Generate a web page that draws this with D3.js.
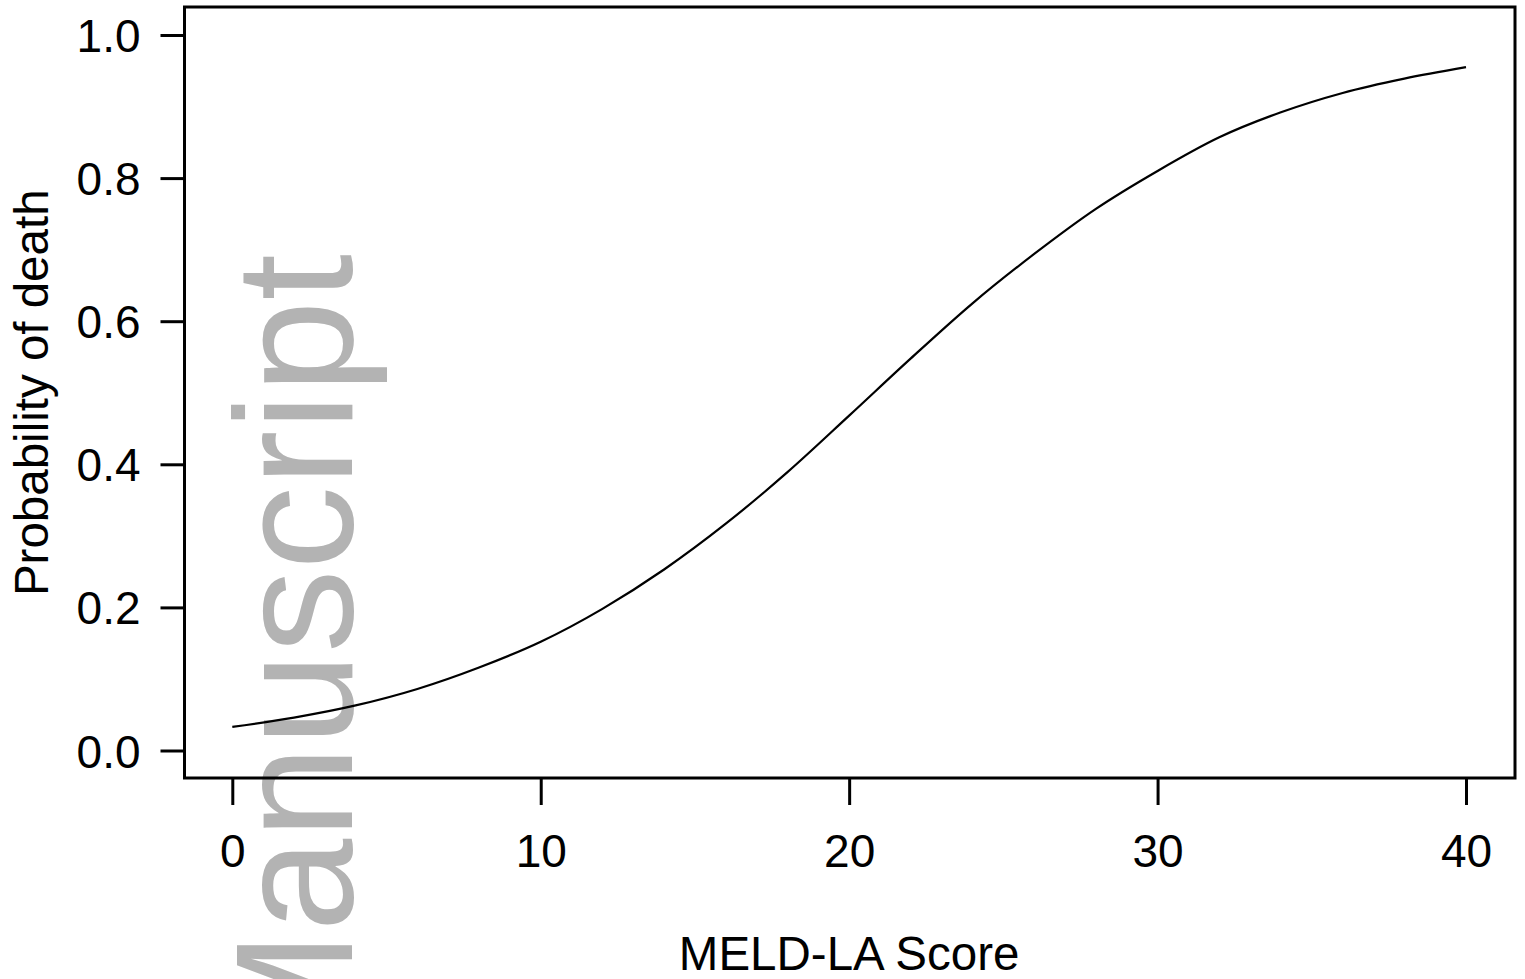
<!DOCTYPE html>
<html lang="en">
<head>
<meta charset="UTF-8">
<title>Probability of death vs MELD-LA Score</title>
<script src="https://d3js.org/d3.v7.min.js"></script>
<style>
  body { margin: 0; background: #fff; overflow: hidden; }
  svg { display: block; font-family: "Liberation Sans", Arial, sans-serif; }
</style>
</head>
<body>
<div id="chart"></div>
<script>
// values
var meldScore = [0, 2, 4, 6, 8, 10, 12, 14, 16, 18, 20, 22, 24, 26, 28, 30, 32, 34, 36, 38, 40];
var probDeath = [0.033, 0.046, 0.063, 0.086, 0.116, 0.152, 0.198, 0.253, 0.317, 0.389, 0.468,
                 0.548, 0.625, 0.694, 0.757, 0.810, 0.857, 0.892, 0.919, 0.939, 0.955];
var xTicks = [0, 10, 20, 30, 40];
var yTicks = [0, 0.2, 0.4, 0.6, 0.8, 1.0];

var w = 1525, h = 979;
var box = {left: 184.5, right: 1515, top: 7, bottom: 778};

var data = meldScore.map(function(d, i) { return {x: d, y: probDeath[i]}; });

var xScale = d3.scaleLinear().domain([0, 40]).range([232.3, 1466]);
var yScale = d3.scaleLinear().domain([0, 1]).range([750.5, 35]);

var svg = d3.select('#chart').append('svg')
    .attr('width', w)
    .attr('height', h);

// grey watermark behind everything
svg.append('text')
    .attr('transform', 'translate(352, 254) rotate(-90)')
    .attr('text-anchor', 'end')
    .attr('font-size', '167px')
    .attr('fill', '#b3b3b3')
    .text('Manuscript');

// curve
var line = d3.line()
    .x(function(d) { return xScale(d.x); })
    .y(function(d) { return yScale(d.y); })
    .curve(d3.curveMonotoneX);

svg.append('path')
    .datum(data)
    .attr('d', line)
    .attr('fill', 'none')
    .attr('stroke', '#000')
    .attr('stroke-width', 2.2);

// plot box
svg.append('rect')
    .attr('x', box.left)
    .attr('y', box.top)
    .attr('width', box.right - box.left)
    .attr('height', box.bottom - box.top)
    .attr('fill', 'none')
    .attr('stroke', '#000')
    .attr('stroke-width', 3);

// axes
var xAxis = d3.axisBottom(xScale)
    .tickValues(xTicks)
    .tickSize(27)
    .tickPadding(29)
    .tickFormat(d3.format('d'));
var yAxis = d3.axisLeft(yScale)
    .tickValues(yTicks)
    .tickSize(24)
    .tickPadding(20)
    .tickFormat(d3.format('.1f'));

var gx = svg.append('g')
    .attr('id', 'x-axis')
    .attr('transform', 'translate(0,' + box.bottom + ')')
    .call(xAxis);
var gy = svg.append('g')
    .attr('id', 'y-axis')
    .attr('transform', 'translate(' + box.left + ',0)')
    .call(yAxis);

[gx, gy].forEach(function(g) {
    g.select('.domain').remove();
    g.selectAll('.tick line').attr('stroke', '#000').attr('stroke-width', 3);
    g.selectAll('.tick text')
        .attr('fill', '#000')
        .attr('font-size', '46px')
        .attr('font-family', '"Liberation Sans", Arial, sans-serif');
});
gy.selectAll('.tick text').attr('dy', '0.36em');

// axis titles
svg.append('text')
    .attr('x', xScale(20))
    .attr('y', 970)
    .attr('text-anchor', 'middle')
    .attr('font-size', '47.5px')
    .text('MELD-LA Score');

svg.append('text')
    .attr('transform', 'translate(48,' + yScale(0.5) + ') rotate(-90)')
    .attr('text-anchor', 'middle')
    .attr('font-size', '47.5px')
    .text('Probability of death');
</script>
</body>
</html>
